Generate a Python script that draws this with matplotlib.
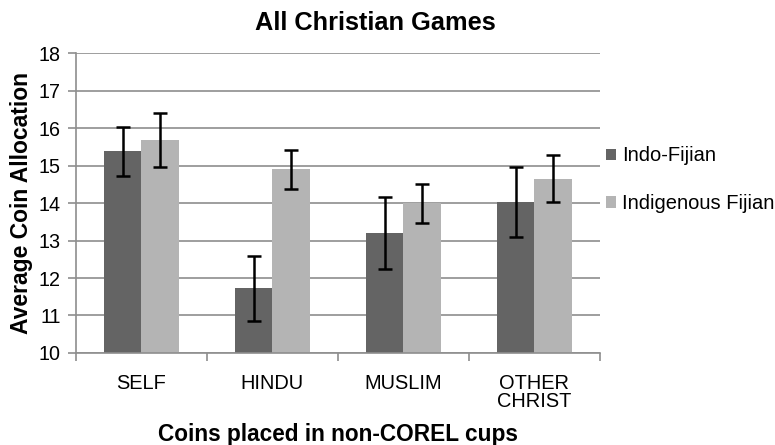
import numpy as np
import matplotlib.pyplot as plt

plt.rcParams['font.family'] = ['Liberation Sans', 'DejaVu Sans']

# Data
categories = ["SELF", "HINDU", "MUSLIM", "OTHER\nCHRIST"]
indo_fijian = [15.38, 11.73, 13.2, 14.03]
indo_fijian_err = [0.66, 0.87, 0.97, 0.94]
indigenous = [15.69, 14.9, 14.0, 14.65]
indigenous_err = [0.73, 0.52, 0.52, 0.63]

dark = "#646464"
light = "#b4b4b4"
grid = "#8e8e8e"

fig = plt.figure(figsize=(7.75, 4.45), dpi=100)
ax = fig.add_axes([0.098, 0.207, 0.676, 0.673])

x = np.arange(len(categories))
w = 0.285
err_kw = dict(ecolor="black", elinewidth=1.8, capsize=4.7, capthick=1.8)
ax.bar(x - w / 2, indo_fijian, w, yerr=indo_fijian_err, color=dark,
       label="Indo-Fijian", error_kw=err_kw, zorder=2)
ax.bar(x + w / 2, indigenous, w, yerr=indigenous_err, color=light,
       label="Indigenous Fijian", error_kw=err_kw, zorder=2)

ax.set_ylim(10, 18)
ax.set_xlim(-0.5, len(categories) - 0.5)
ax.set_yticks(range(10, 19))
ax.yaxis.grid(True, color=grid, linewidth=1.2, zorder=0)
ax.set_axisbelow(True)

ax.set_xticks(x)
ax.set_xticklabels(categories, fontsize=14.4, linespacing=0.95)
ax.set_xticks(np.arange(-0.5, len(categories)), minor=True)
ax.tick_params(axis="x", which="major", length=0, pad=15)
ax.tick_params(axis="x", which="minor", length=5.5, width=1.2, color=grid, direction="out")
ax.tick_params(axis="y", labelsize=14.2, length=5.5, width=1.2, color=grid, pad=5.5)

for s in ["top", "right"]:
    ax.spines[s].set_visible(False)
for s in ["left", "bottom"]:
    ax.spines[s].set_color(grid)
    ax.spines[s].set_linewidth(1.2)

ax.set_ylabel("Average Coin Allocation", fontsize=16.5, fontweight="bold", labelpad=4)
ax.set_xlabel("Coins placed in non-COREL cups", fontsize=16.3, fontweight="bold", labelpad=9)
fig.suptitle("All Christian Games", fontsize=18.3, fontweight="bold", x=0.484, y=0.976)

ax.legend(loc="center left", bbox_to_anchor=(1.0115, 0.578), frameon=False,
          fontsize=14.5, handlelength=0.5, handleheight=0.5, handletextpad=0.3,
          labelspacing=1.42, borderaxespad=0, borderpad=0)

fig.savefig("out.png", dpi=100)
